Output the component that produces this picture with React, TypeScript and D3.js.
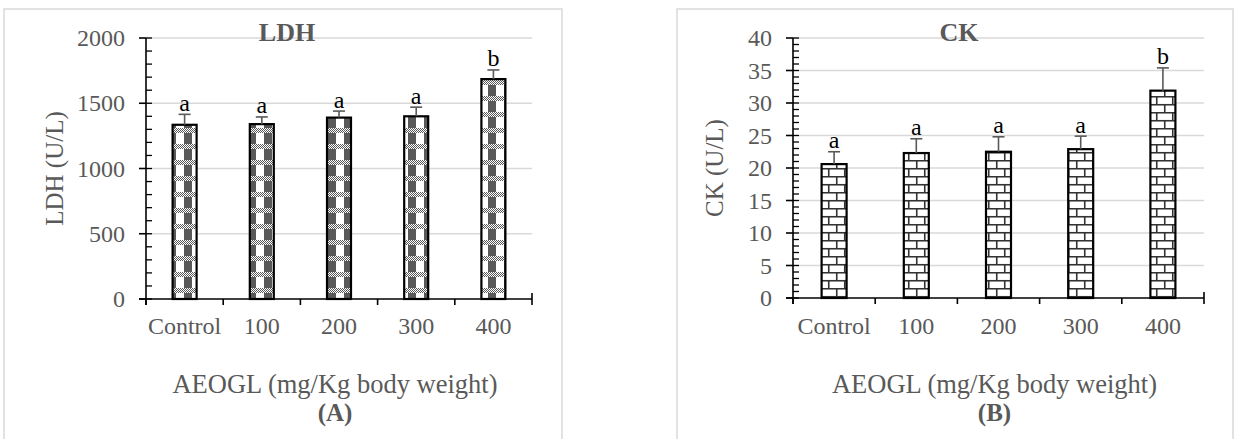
import React from "react";
import * as d3 from "d3";

const categories = ["Control", "100", "200", "300", "400"];
const ldhValues = [1335, 1340, 1390, 1400, 1685];
const ldhErrors = [80, 55, 50, 70, 70];
const ldhLetters = ["a", "a", "a", "a", "b"];
const ldhTicks = [0, 500, 1000, 1500, 2000];

const ckValues = [20.6, 22.3, 22.5, 22.9, 31.9];
const ckErrors = [1.9, 2.2, 2.3, 2.0, 3.5];
const ckLetters = ["a", "a", "a", "a", "b"];
const ckTicks = [0, 5, 10, 15, 20, 25, 30, 35, 40];

const FONT = "'Liberation Serif', 'Times New Roman', serif";
const GRAY = "#595959";

type PanelProps = {
  box: [number, number];
  plotX: [number, number];
  plotY: [number, number];
  yMax: number;
  minorStep: number;
  ticks: number[];
  values: number[];
  errors: number[];
  letters: string[];
  title: string;
  yTitle: string;
  yTitleX: number;
  panelLabel: string;
  pattern: string;
  barWidth: number;
};

function Panel(p: PanelProps) {
  const x = d3.scaleBand<string>().domain(categories).range(p.plotX).padding(0);
  const y = d3.scaleLinear().domain([0, p.yMax]).range([p.plotY[1], p.plotY[0]]);
  const minor = d3.range(0, p.yMax + 1e-9, p.minorStep);
  const bw = x.bandwidth();
  const boundaries = d3.range(0, categories.length + 1).map((i) => p.plotX[0] + i * bw);
  const plotCx = (p.plotX[0] + p.plotX[1]) / 2 - 4;
  const plotCy = (p.plotY[0] + p.plotY[1]) / 2;
  const boxCx = (p.box[0] + p.box[1]) / 2 + 4;
  return (
    <g>
      <rect x={p.box[0]} y={9} width={p.box[1] - p.box[0]} height={445} fill="white" stroke="#d9d9d9" strokeWidth={1.5} />
      {p.ticks.filter((t) => t > 0).map((t) => (
        <line key={"g" + t} x1={p.plotX[0]} x2={p.plotX[1]} y1={y(t)} y2={y(t)} stroke="#d9d9d9" strokeWidth={1.5} />
      ))}
      <text x={boxCx} y={41} textAnchor="middle" fontFamily={FONT} fontWeight="bold" fontSize={26} fill={GRAY}>{p.title}</text>
      {p.values.map((v, i) => {
        const cx = x(categories[i])! + bw / 2;
        return (
          <g key={"b" + i}>
            <rect x={cx - p.barWidth / 2} y={y(v)} width={p.barWidth} height={y(0) - y(v)} fill={`url(#${p.pattern})`} stroke="#000" strokeWidth={2.2} />
            <line x1={cx} x2={cx} y1={y(v)} y2={y(v + p.errors[i])} stroke={GRAY} strokeWidth={1.6} />
            <line x1={cx - 6} x2={cx + 6} y1={y(v + p.errors[i])} y2={y(v + p.errors[i])} stroke={GRAY} strokeWidth={1.6} />
            <text x={cx} y={y(v + p.errors[i]) - 3.5} textAnchor="middle" fontFamily={FONT} fontSize={24} fill="#000">{p.letters[i]}</text>
          </g>
        );
      })}
      <line x1={p.plotX[0]} x2={p.plotX[0]} y1={p.plotY[0]} y2={p.plotY[1] + 6} stroke="#000" strokeWidth={1.6} />
      {minor.map((t) => (
        <line key={"m" + t} x1={p.plotX[0]} x2={p.plotX[0] + 6} y1={y(t)} y2={y(t)} stroke="#000" strokeWidth={1.3} />
      ))}
      {p.ticks.map((t) => (
        <g key={"t" + t}>
          <line x1={p.plotX[0] - 7} x2={p.plotX[0]} y1={y(t)} y2={y(t)} stroke="#000" strokeWidth={1.6} />
          <text x={p.plotX[0] - 21} y={y(t) + 8} textAnchor="end" fontFamily={FONT} fontSize={24} fill={GRAY}>{t}</text>
        </g>
      ))}
      <line x1={p.plotX[0] - 7} x2={p.plotX[1]} y1={y(0)} y2={y(0)} stroke="#000" strokeWidth={1.6} />
      {boundaries.map((bx, i) => (
        <line key={"xb" + i} x1={bx} x2={bx} y1={i === categories.length ? y(0) - 6 : y(0)} y2={y(0) + 6} stroke="#000" strokeWidth={1.6} />
      ))}
      {categories.map((c) => (
        <text key={"xl" + c} x={x(c)! + bw / 2} y={334} textAnchor="middle" fontFamily={FONT} fontSize={24} fill={GRAY}>{c}</text>
      ))}
      <text x={plotCx} y={393} textAnchor="middle" fontFamily={FONT} fontSize={26.5} fill={GRAY}>AEOGL (mg/Kg body weight)</text>
      <text x={plotCx} y={421} textAnchor="middle" fontFamily={FONT} fontWeight="bold" fontSize={25} fill={GRAY}>{p.panelLabel}</text>
      <text transform={`translate(${p.yTitleX + 8},${plotCy}) rotate(-90)`} textAnchor="middle" fontFamily={FONT} fontSize={25} fill={GRAY}>{p.yTitle}</text>
    </g>
  );
}

export default function App() {
  return (
    <svg width={1235} height={439} style={{ position: "absolute", left: 0, top: 0 }}>
      <defs>
        <pattern id="dots" width={2} height={2} patternUnits="userSpaceOnUse">
          <rect width={2} height={2} fill="#fff" />
          <rect x={0} y={0} width={1} height={1} fill={GRAY} />
          <rect x={1} y={1} width={1} height={1} fill={GRAY} />
        </pattern>
        <pattern id="plaid" width={16} height={16} patternUnits="userSpaceOnUse">
          <rect width={16} height={16} fill="#fff" />
          <rect x={8} y={0} width={8} height={16} fill={GRAY} />
          <rect x={0} y={0} width={16} height={5} fill="url(#dots)" />
        </pattern>
        <pattern id="brick" width={16} height={16} patternUnits="userSpaceOnUse">
          <rect width={16} height={16} fill="#fff" />
          <line x1={0} x2={16} y1={0.75} y2={0.75} stroke="#333" strokeWidth={1.6} />
          <line x1={0} x2={16} y1={8.75} y2={8.75} stroke="#333" strokeWidth={1.6} />
          <line x1={4.75} x2={4.75} y1={0} y2={8} stroke="#333" strokeWidth={1.6} />
          <line x1={12.75} x2={12.75} y1={8} y2={16} stroke="#333" strokeWidth={1.6} />
        </pattern>
      </defs>
      <rect width={1235} height={439} fill="#fff" />
      <Panel
        box={[4, 562]}
        plotX={[146, 532]}
        plotY={[38, 299]}
        yMax={2000}
        minorStep={100}
        ticks={ldhTicks}
        values={ldhValues}
        errors={ldhErrors}
        letters={ldhLetters}
        title="LDH"
        yTitle="LDH (U/L)"
        yTitleX={55}
        panelLabel="(A)"
        pattern="plaid"
        barWidth={24}
      />
      <Panel
        box={[677, 1233]}
        plotX={[793, 1204]}
        plotY={[38, 298]}
        yMax={40}
        minorStep={1}
        ticks={ckTicks}
        values={ckValues}
        errors={ckErrors}
        letters={ckLetters}
        title="CK"
        yTitle="CK (U/L)"
        yTitleX={715}
        panelLabel="(B)"
        pattern="brick"
        barWidth={25}
      />
    </svg>
  );
}
